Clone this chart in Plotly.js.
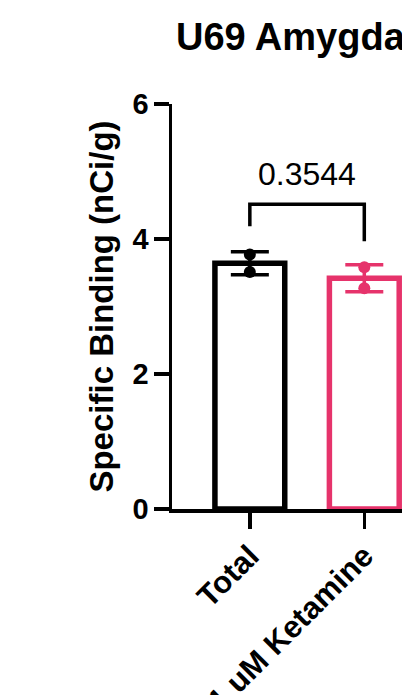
<!DOCTYPE html>
<html>
<head>
<meta charset="utf-8">
<script src="https://cdn.plot.ly/plotly-3.0.1.min.js"></script>
<style>
  html, body { margin: 0; padding: 0; background: #ffffff; overflow: hidden; }
  #chart { width: 560px; height: 695px; }
</style>
</head>
<body>
<div id="chart"></div>
<script>
// ---- data ----
const categories = ["Total", "1 uM Ketamine"];
const means = [3.64, 3.42];
const sdErr = [0.17, 0.20];
const pointsTotal = [3.77, 3.51];
const pointsKetamine = [3.58, 3.27];
const pValueLabel = "0.3544";
const bracketLeftY = [4.19, 4.515];
const bracketRightY = [4.515, 3.965];
const yTicks = [0, 2, 4, 6];

const BLACK = "#000000";
const PINK = "#E6336B";
const colors = [BLACK, PINK];
const FONT = "Arial, 'Liberation Sans', Helvetica, sans-serif";

const W = 560, H = 695;

const traces = [];
categories.forEach((c, i) => {
  traces.push({
    type: "bar",
    x: [c],
    y: [means[i]],
    width: 0.61,
    marker: { color: "rgba(255,255,255,1)", line: { color: colors[i], width: 5.5 } },
    error_y: { type: "data", array: [sdErr[i]], visible: true, color: colors[i], thickness: 3.5, width: 19 },
    hoverinfo: "skip"
  });
});
const pts = [pointsTotal, pointsKetamine];
categories.forEach((c, i) => {
  traces.push({
    type: "scatter",
    mode: "markers",
    x: pts[i].map(() => c),
    y: pts[i],
    marker: { color: colors[i], size: 12, line: { width: 0 } },
    cliponaxis: false,
    hoverinfo: "skip"
  });
});
// significance bracket
traces.push({
  type: "scatter",
  mode: "lines",
  x: [categories[0], categories[0], categories[1], categories[1]],
  y: [bracketLeftY[0], bracketLeftY[1], bracketRightY[0], bracketRightY[1]],
  line: { color: BLACK, width: 3.5 },
  cliponaxis: false,
  hoverinfo: "skip"
});

const layout = {
  width: W,
  height: H,
  paper_bgcolor: "#ffffff",
  plot_bgcolor: "#ffffff",
  showlegend: false,
  barmode: "overlay",
  margin: { l: 172, r: 24, t: 104, b: 186, pad: 0 },
  font: { family: FONT, color: BLACK },
  title: {
    text: "U69 Amygdala",
    font: { family: FONT, size: 38, weight: "bold", color: BLACK },
    xref: "container", yref: "container",
    x: 176 / W, xanchor: "left",
    y: 1 - 23 / H, yanchor: "top"
  },
  xaxis: {
    type: "category",
    categoryorder: "array",
    categoryarray: categories,
    range: [-0.68, 2.5],
    showline: true, linecolor: BLACK, linewidth: 3.5,
    ticks: "outside", ticklen: 16, tickwidth: 3.5, tickcolor: BLACK,
    tickangle: -45,
    ticklabelstandoff: -3,
    tickfont: { family: FONT, size: 31, weight: "bold", color: BLACK },
    showgrid: false, zeroline: false, fixedrange: true
  },
  yaxis: {
    range: [0, 6],
    tickvals: yTicks,
    ticktext: yTicks.map(String),
    showline: true, linecolor: BLACK, linewidth: 3.5,
    ticks: "outside", ticklen: 15, tickwidth: 3.5, tickcolor: BLACK,
    tickfont: { family: FONT, size: 29, weight: "bold", color: BLACK },
    ticklabelstandoff: -1,
    showgrid: false, zeroline: false, fixedrange: true,
    title: {
      text: "Specific Binding (nCi/g)",
      font: { family: FONT, size: 33, weight: "bold", color: BLACK },
      standoff: 10
    }
  },
  annotations: [{
    x: 0.5, y: 4.96, xref: "x", yref: "y",
    text: pValueLabel, showarrow: false,
    xanchor: "center", yanchor: "middle",
    font: { family: FONT, size: 32, color: BLACK }
  }]
};

Plotly.newPlot("chart", traces, layout, { displayModeBar: false, staticPlot: true });
</script>
</body>
</html>
